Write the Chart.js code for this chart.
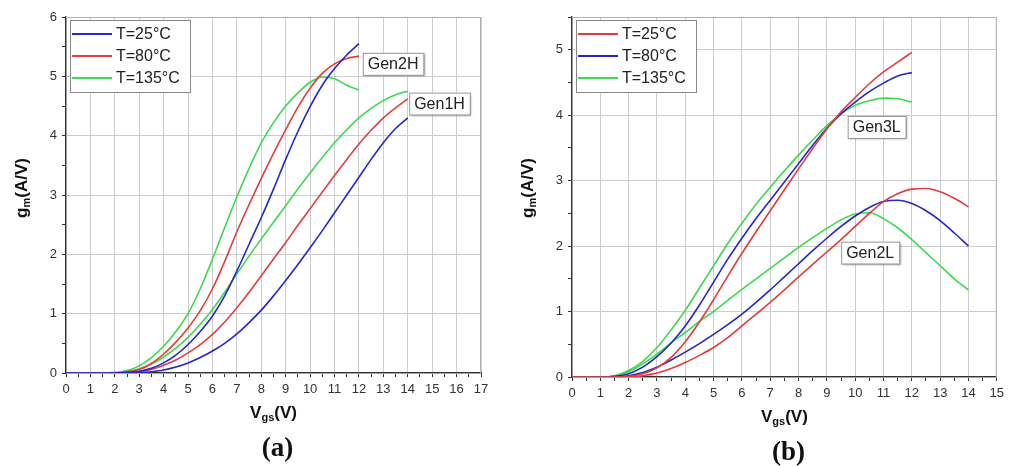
<!DOCTYPE html>
<html>
<head>
<meta charset="utf-8">
<script src="https://cdn.jsdelivr.net/npm/chart.js@4.4.1/dist/chart.umd.min.js"></script>
<style>
  body { margin: 0; background: #fff; width: 1009px; height: 466px; overflow: hidden; position: relative; }
  #chartA { position: absolute; left: 0; top: 0; }
  #chartB { position: absolute; left: 500px; top: 0; }
</style>
</head>
<body>
<canvas id="chartA" width="500" height="466"></canvas>
<canvas id="chartB" width="509" height="466"></canvas>
<script>
// Vgs sample points (V)
var vgsTo12 = [0, 0.5, 1, 1.5, 2, 2.5, 3, 3.5, 4, 4.5, 5, 5.5, 6, 6.5, 7, 7.5, 8, 8.5, 9, 9.5, 10, 10.5, 11, 11.5, 12];
var vgsTo14 = [0, 0.5, 1, 1.5, 2, 2.5, 3, 3.5, 4, 4.5, 5, 5.5, 6, 6.5, 7, 7.5, 8, 8.5, 9, 9.5, 10, 10.5, 11, 11.5, 12, 12.5, 13, 13.5, 14];

// (a) gm (A/V)
var gen2H_25 = [0, 0, 0, 0, 0, 0.01, 0.03, 0.08, 0.17, 0.3, 0.48, 0.7, 0.96, 1.3, 1.72, 2.17, 2.62, 3.1, 3.6, 4.07, 4.49, 4.85, 5.13, 5.36, 5.55];
var gen2H_80 = [0, 0, 0, 0, 0, 0.02, 0.06, 0.16, 0.32, 0.52, 0.76, 1.05, 1.42, 1.88, 2.38, 2.84, 3.28, 3.7, 4.1, 4.48, 4.8, 5.05, 5.21, 5.3, 5.34];
var gen2H_135 = [0, 0, 0, 0, 0.01, 0.04, 0.12, 0.26, 0.45, 0.7, 1.0, 1.42, 1.92, 2.45, 2.97, 3.45, 3.88, 4.22, 4.5, 4.72, 4.9, 4.99, 4.96, 4.85, 4.77];
var gen1H_25 = [0, 0, 0, 0, 0, 0, 0, 0.02, 0.05, 0.1, 0.17, 0.26, 0.37, 0.5, 0.66, 0.85, 1.06, 1.3, 1.56, 1.83, 2.11, 2.4, 2.7, 3.0, 3.3, 3.6, 3.88, 4.12, 4.3];
var gen1H_80 = [0, 0, 0, 0, 0, 0, 0.02, 0.06, 0.13, 0.22, 0.34, 0.48, 0.65, 0.86, 1.1, 1.36, 1.64, 1.92, 2.2, 2.49, 2.77, 3.05, 3.33, 3.6, 3.86, 4.09, 4.3, 4.47, 4.62];
var gen1H_135 = [0, 0, 0, 0, 0, 0.02, 0.07, 0.15, 0.27, 0.42, 0.6, 0.82, 1.07, 1.36, 1.67, 1.97, 2.26, 2.54, 2.82, 3.1, 3.37, 3.63, 3.88, 4.1, 4.3, 4.46, 4.59, 4.69, 4.75];

// (b) gm (A/V)
var gen3L_25 = [0, 0, 0, 0, 0.01, 0.05, 0.14, 0.3, 0.54, 0.84, 1.18, 1.54, 1.89, 2.22, 2.54, 2.86, 3.18, 3.49, 3.79, 4.05, 4.27, 4.48, 4.66, 4.81, 4.96];
var gen3L_80 = [0, 0, 0, 0.01, 0.05, 0.15, 0.31, 0.52, 0.78, 1.1, 1.45, 1.8, 2.12, 2.42, 2.7, 2.98, 3.26, 3.54, 3.8, 4.02, 4.2, 4.36, 4.49, 4.6, 4.65];
var gen3L_135 = [0, 0, 0, 0.02, 0.1, 0.24, 0.45, 0.72, 1.02, 1.36, 1.7, 2.04, 2.35, 2.64, 2.9, 3.15, 3.39, 3.62, 3.84, 4.02, 4.15, 4.22, 4.26, 4.25, 4.2];
var gen2L_25 = [0, 0, 0, 0, 0, 0.02, 0.06, 0.13, 0.22, 0.33, 0.45, 0.6, 0.78, 0.96, 1.14, 1.33, 1.53, 1.72, 1.91, 2.1, 2.3, 2.5, 2.68, 2.8, 2.87, 2.88, 2.83, 2.73, 2.6];
var gen2L_80 = [0, 0, 0, 0, 0.02, 0.07, 0.15, 0.26, 0.38, 0.51, 0.65, 0.8, 0.96, 1.14, 1.33, 1.53, 1.73, 1.93, 2.12, 2.3, 2.46, 2.59, 2.68, 2.7, 2.65, 2.54, 2.39, 2.2, 2.0];
var gen2L_135 = [0, 0, 0, 0.01, 0.08, 0.2, 0.35, 0.52, 0.68, 0.85, 1.0, 1.17, 1.34, 1.5, 1.66, 1.82, 1.98, 2.13, 2.27, 2.4, 2.49, 2.51, 2.42, 2.28, 2.1, 1.9, 1.7, 1.5, 1.33];

var tempLabels = ['T=25\u00B0C', 'T=80\u00B0C', 'T=135\u00B0C'];

var BLUE = '#2626c9', RED = '#e23d3d', GREEN = '#3dd94c';
var SANS = '"Liberation Sans", Arial, sans-serif';

function pts(xs, ys) {
    return xs.map(function (x, i) { return { x: x, y: ys[i] }; });
}
function curve(label, xs, ys, color, inLegend) {
    return { label: label, data: pts(xs, ys), borderColor: color, backgroundColor: color, borderWidth: 1.6,
             pointRadius: 0, cubicInterpolationMode: 'monotone', fill: false, inLegend: inLegend };
}

// draws frame, axis titles with subscripts, boxed legend, curve-group tags, panel letter
var decorPlugin = {
    id: 'decor',
    afterDatasetsDraw: function (chart) {
        var c = chart.ctx, a = chart.chartArea, o = chart.options.plugins.decor;
        c.save();
        c.strokeStyle = '#b0b0b0'; c.lineWidth = 1;
        c.beginPath(); c.moveTo(a.left, a.top + 0.5); c.lineTo(a.right - 0.5, a.top + 0.5); c.lineTo(a.right - 0.5, a.bottom); c.stroke();

        // legend
        var items = chart.data.datasets.filter(function (d) { return d.inLegend; });
        var lx = a.left + 4, ly = a.top + 3, lw = 120, lh = 72;
        c.fillStyle = '#fff'; c.fillRect(lx, ly, lw, lh);
        c.strokeStyle = '#8a8a8a'; c.lineWidth = 1; c.strokeRect(lx + 0.5, ly + 0.5, lw, lh);
        c.font = '16px ' + SANS; c.textBaseline = 'middle'; c.textAlign = 'left';
        items.forEach(function (d, i) {
            var yy = ly + 14 + i * 22;
            c.strokeStyle = d.borderColor; c.lineWidth = 2;
            c.beginPath(); c.moveTo(lx + 2, yy); c.lineTo(lx + 42, yy); c.stroke();
            c.fillStyle = '#222'; c.fillText(d.label, lx + 46, yy + 1);
        });

        // curve group tags
        var xs = chart.scales.x, ys = chart.scales.y;
        o.tags.forEach(function (t) {
            var px = xs.getPixelForValue(t.x), py = ys.getPixelForValue(t.y);
            c.font = '16px ' + SANS;
            var w = c.measureText(t.text).width + 10, h = 22;
            c.save();
            c.shadowColor = 'rgba(0,0,0,0.35)'; c.shadowOffsetX = 1.5; c.shadowOffsetY = 1.5; c.shadowBlur = 2;
            c.fillStyle = '#fff'; c.fillRect(px - w / 2, py - h / 2, w, h);
            c.restore();
            c.strokeStyle = '#999'; c.lineWidth = 1; c.strokeRect(px - w / 2 + 0.5, py - h / 2 + 0.5, w, h);
            c.fillStyle = '#222'; c.textAlign = 'center'; c.textBaseline = 'middle';
            c.fillText(t.text, px, py + 1);
        });

        // axis titles
        function subText(main, sub, tail, cx, cy, rot) {
            var big = 'bold 17px ' + SANS, small = 'bold 11px ' + SANS;
            c.font = big; var w1 = c.measureText(main).width, w3 = c.measureText(tail).width;
            c.font = small; var w2 = c.measureText(sub).width;
            var total = w1 + w2 + w3;
            c.save(); c.translate(cx, cy); if (rot) c.rotate(-Math.PI / 2);
            c.fillStyle = '#111'; c.textAlign = 'left'; c.textBaseline = 'middle';
            c.font = big; c.fillText(main, -total / 2, 0);
            c.font = small; c.fillText(sub, -total / 2 + w1, 5);
            c.font = big; c.fillText(tail, -total / 2 + w1 + w2, 0);
            c.restore();
        }
        subText('V', 'gs', '(V)', (a.left + a.right) / 2, a.bottom + 40, false);
        subText('g', 'm', '(A/V)', a.left - 44, 188, true);

        c.font = 'bold 27px "Liberation Serif", "Times New Roman", serif';
        c.fillStyle = '#111'; c.textAlign = 'center'; c.textBaseline = 'middle';
        c.fillText(o.panel, (a.left + a.right) / 2 + 4, a.bottom + 76);
        c.restore();
    }
};

function makeChart(id, datasets, xMax, yMax, plotLeft, plotRight, plotBottom, tags, panel) {
    var cv = document.getElementById(id);
    var isMajor = function (v) { return Math.abs(v - Math.round(v)) < 1e-6; };
    var axisCommon = function (max) {
        return {
            type: 'linear', min: 0, max: max,
            border: { color: '#333', width: 1.3 },
            grid: {
                color: function (ctx) { return ctx.tick && isMajor(ctx.tick.value) ? '#cdcdcd' : 'rgba(0,0,0,0)'; },
                tickColor: '#333', tickLength: 4, lineWidth: 1
            },
            ticks: {
                stepSize: 0.5, autoSkip: false, maxRotation: 0, color: '#333',
                font: { size: 13, family: SANS }, padding: 5,
                callback: function (v) { return isMajor(v) ? Math.round(v) : ''; }
            }
        };
    };
    var xAxis = axisCommon(xMax), yAxis = axisCommon(yMax);
    xAxis.afterFit = function (s) { s.height = cv.height - plotBottom; };
    yAxis.afterFit = function (s) { s.width = plotLeft; };
    return new Chart(cv.getContext('2d'), {
        type: 'line',
        data: { datasets: datasets },
        options: {
            responsive: false, animation: false, devicePixelRatio: 1,
            layout: { padding: { left: 0, top: 17, right: cv.width - plotRight, bottom: 0 } },
            scales: { x: xAxis, y: yAxis },
            plugins: { legend: { display: false }, tooltip: { enabled: false }, decor: { tags: tags, panel: panel } }
        },
        plugins: [decorPlugin]
    });
}

makeChart('chartA', [
    curve(tempLabels[0], vgsTo12, gen2H_25, BLUE, true),
    curve(tempLabels[1], vgsTo12, gen2H_80, RED, true),
    curve(tempLabels[2], vgsTo12, gen2H_135, GREEN, true),
    curve(tempLabels[0], vgsTo14, gen1H_25, BLUE, false),
    curve(tempLabels[1], vgsTo14, gen1H_80, RED, false),
    curve(tempLabels[2], vgsTo14, gen1H_135, GREEN, false)
], 17, 6, 66, 481, 373, [
    { text: 'Gen2H', x: 13.4, y: 5.21 },
    { text: 'Gen1H', x: 15.3, y: 4.54 }
], '(a)');

makeChart('chartB', [
    curve(tempLabels[0], vgsTo12, gen3L_25, RED, true),
    curve(tempLabels[1], vgsTo12, gen3L_80, BLUE, true),
    curve(tempLabels[2], vgsTo12, gen3L_135, GREEN, true),
    curve(tempLabels[0], vgsTo14, gen2L_25, RED, false),
    curve(tempLabels[1], vgsTo14, gen2L_80, BLUE, false),
    curve(tempLabels[2], vgsTo14, gen2L_135, GREEN, false)
], 15, 5.5, 72, 500, 377, [
    { text: 'Gen3L', x: 10.76, y: 3.82 },
    { text: 'Gen2L', x: 10.53, y: 1.9 }
], '(b)');
</script>
</body>
</html>
